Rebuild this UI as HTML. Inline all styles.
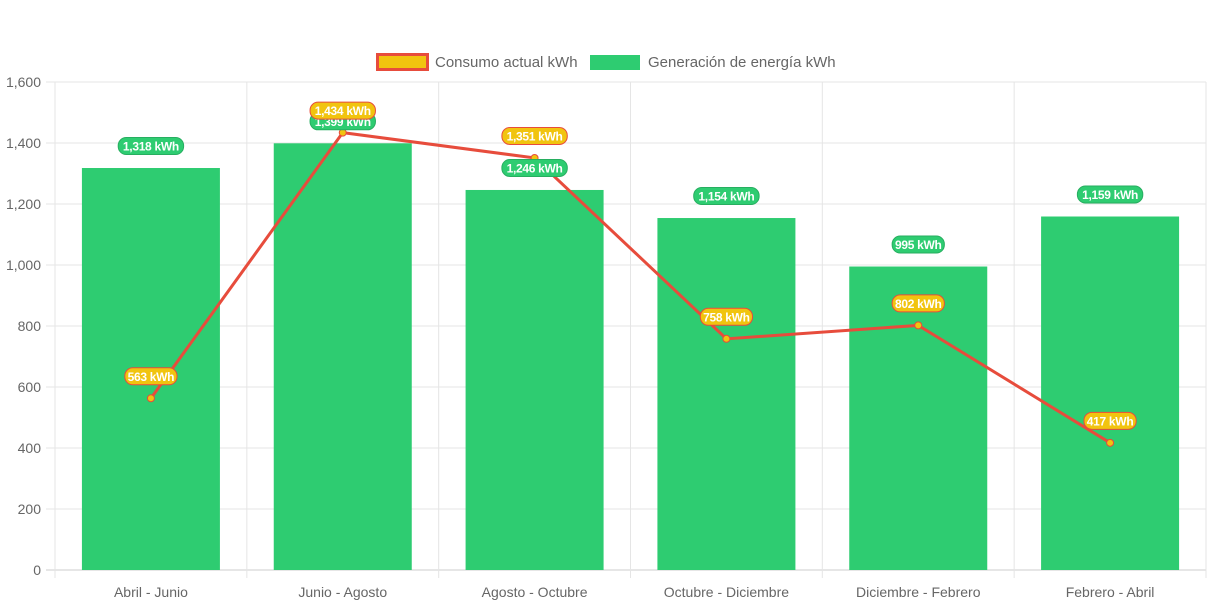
<!DOCTYPE html>
<html><head><meta charset="utf-8"><style>
body{margin:0;background:#fff;}
svg{display:block;font-family:"Liberation Sans",Arial,sans-serif;}
</style></head><body>
<svg id="chart" width="1213" height="606"></svg>
<script>
const categories=["Abril - Junio","Junio - Agosto","Agosto - Octubre","Octubre - Diciembre","Diciembre - Febrero","Febrero - Abril"];
const generation=[1318,1399,1246,1154,995,1159];
const consumption=[563,1434,1351,758,802,417];
const yTicks=[0,200,400,600,800,1000,1200,1400,1600];
const NS="http://www.w3.org/2000/svg";
const svg=document.getElementById('chart');
const L=55,R=1206,T=82,B=570,YMAX=1600;
const bw=(R-L)/categories.length;
function x(i){return L+bw*(i+0.5);}
function y(v){return B-(v/YMAX)*(B-T);}
function el(t,a,p){const e=document.createElementNS(NS,t);for(const k in a)e.setAttribute(k,a[k]);(p||svg).appendChild(e);return e;}
yTicks.forEach(v=>{
 const g=el('line',{x1:46,x2:R,y1:y(v),y2:y(v),stroke:v===0?'#ccc':'#e5e5e5','stroke-width':1});
 
 
 const t=el('text',{x:41,y:y(v)+5,'text-anchor':'end','font-size':14,fill:'#666'});
 t.textContent=v.toLocaleString('en-US');
 
 
});
for(let i=0;i<=categories.length;i++){
 const g=el('line',{x1:L+bw*i,x2:L+bw*i,y1:T,y2:578,stroke:'#e5e5e5','stroke-width':1});
 
 
}
categories.forEach((c,i)=>{
 const t=el('text',{x:x(i),y:597,'text-anchor':'middle','font-size':14,fill:'#666'});
 t.textContent=c;
 
 
});
generation.forEach((v,i)=>{
 const b=el('rect',{x:x(i)-69,y:y(v),width:138,height:B-y(v),fill:'#2ecc71'});
 
 
});
const pts=consumption.map((v,i)=>x(i)+','+y(v)).join(' ');
const pl=el('polyline',{points:pts,fill:'none',stroke:'#e74c3c','stroke-width':3});


consumption.forEach((v,i)=>{
 const c=el('circle',{cx:x(i),cy:y(v),r:3.5,fill:'#f1c40f',stroke:'#e74c3c','stroke-width':1});
 
 
});
function label(cx,cy,txt,fill,stroke,name){
 const g=el('g',{});
 
 
 const w=txt.length*6.6+6;
 el('rect',{x:cx-w/2,y:cy-8.5,width:w,height:17,rx:8,fill:fill,stroke:stroke,'stroke-width':1},g);
 const t=el('text',{x:cx,y:cy+4.5,'text-anchor':'middle','font-size':12,'font-weight':'bold',fill:'#fff','letter-spacing':-0.3},g);
 t.textContent=txt;
}
generation.forEach((v,i)=>label(x(i),y(v)-22,v.toLocaleString('en-US')+' kWh','#2ecc71','#27ae60','generation-value-label'));
consumption.forEach((v,i)=>label(x(i),y(v)-22,v.toLocaleString('en-US')+' kWh','#f1c40f','#e74c3c','consumption-value-label'));
const lg=el('g',{});


const l1=el('rect',{x:377.5,y:54.5,width:50,height:15,fill:'#f1c40f',stroke:'#e74c3c','stroke-width':3},lg);


const t1=el('text',{x:435,y:67,'font-size':15,fill:'#666'},lg);t1.textContent='Consumo actual kWh';


const l2=el('rect',{x:590,y:55,width:50,height:15,fill:'#2ecc71'},lg);


const t2=el('text',{x:648,y:67,'font-size':15,fill:'#666'},lg);t2.textContent='Generación de energía kWh';


</script>
</body></html>
